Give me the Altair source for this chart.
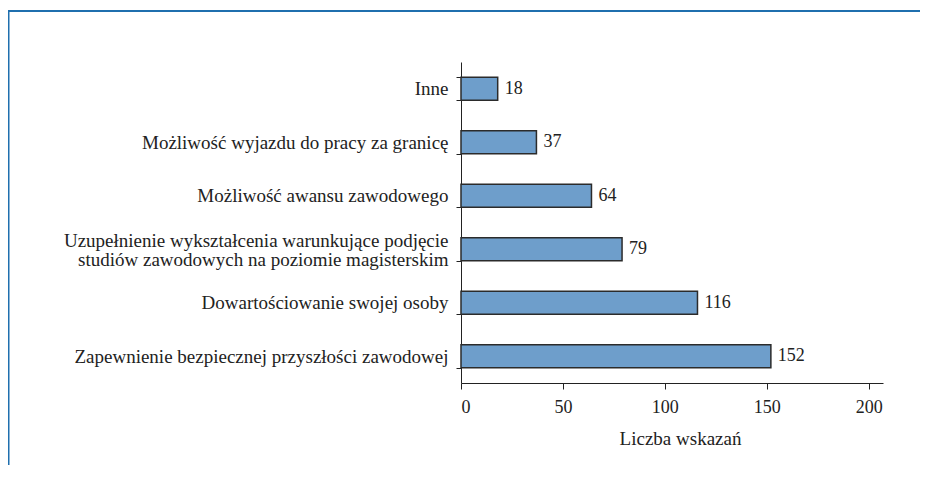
import altair as alt
import pandas as pd

categories = [
    "Inne",
    "Możliwość wyjazdu do pracy za granicę",
    "Możliwość awansu zawodowego",
    "Uzupełnienie wykształcenia warunkujące podjęcie\nstudiów zawodowych na poziomie magisterskim",
    "Dowartościowanie swojej osoby",
    "Zapewnienie bezpiecznej przyszłości zawodowej",
]
values = [18, 37, 64, 79, 116, 152]
x_ticks = [0, 50, 100, 150, 200]

df = pd.DataFrame({"kategoria": categories, "wartosc": values})

FONT = "Liberation Serif"
W, H = 422, 321

y_enc = alt.Y(
    "kategoria:N",
    sort=categories,
    title=None,
    scale=alt.Scale(paddingInner=0.57, paddingOuter=0.285),
    axis=alt.Axis(
        labelExpr="split(datum.label, '\\n')",
        labelFont=FONT,
        labelFontSize=19,
        labelColor="#222222",
        labelLineHeight=19,
        labelPadding=8,
        labelAlign="right",
        labelOffset={
            "condition": {"test": "indexof(datum.label, '\\n') >= 0", "value": -9},
            "value": 0,
        },
        tickBand="extent",
        tickSize=5,
        tickColor="#222222",
        domainColor="#222222",
        grid=False,
        labelLimit=500,
    ),
)

x_enc = alt.X(
    "wartosc:Q",
    title="Liczba wskazań",
    scale=alt.Scale(domain=[0, 207], nice=False),
    axis=alt.Axis(
        values=x_ticks,
        labelFont=FONT,
        labelFontSize=18,
        labelColor="#222222",
        labelPadding=9,
        titleFont=FONT,
        titleFontSize=19,
        titleFontWeight="normal",
        titleColor="#222222",
        titlePadding=13,
        titleX=219,
        titleAlign="center",
        tickSize=6,
        tickColor="#222222",
        domainColor="#222222",
        grid=False,
    ),
)

bars = alt.Chart(df).mark_bar(
    color="#6e9ecb", stroke="#2b2b2b", strokeWidth=1.5
).encode(x=x_enc, y=y_enc)

labels = alt.Chart(df).mark_text(
    align="left", baseline="middle", dx=7, font=FONT, fontSize=18, color="#222222"
).encode(
    x=alt.X("wartosc:Q"),
    y=alt.Y("kategoria:N", sort=categories),
    text=alt.Text("wartosc:Q"),
)

frame_top = alt.Chart(pd.DataFrame({"a": [0]})).mark_rule(
    color="#1f6fae", strokeWidth=2
).encode(x=alt.value(-453), x2=alt.value(500), y=alt.value(-51))

frame_left = alt.Chart(pd.DataFrame({"a": [0]})).mark_rule(
    color="#1f6fae", strokeWidth=2
).encode(x=alt.value(-452.5), y=alt.value(-52), y2=alt.value(430))

chart = (
    alt.layer(frame_top, frame_left, bars, labels)
    .properties(
        width=W,
        height=H,
        autosize=alt.AutoSizeParams(type="none"),
        padding={"left": 453, "top": 54, "right": 37, "bottom": 82},
    )
    .configure(background="white", view=alt.ViewConfig(stroke=None))
)

chart.save("out.html", embed_options={"renderer": "svg", "actions": False})
